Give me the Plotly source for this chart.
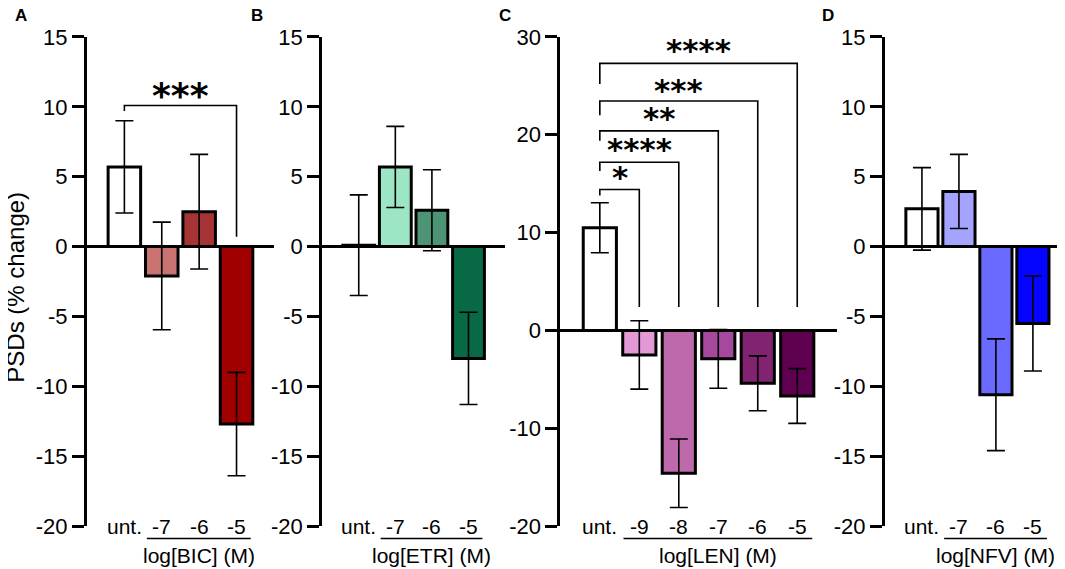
import plotly.graph_objects as go

# ---------------- data ----------------
A_CATS = ["unt.", "-7", "-6", "-5"]
A_MEAN = [5.7, -2.1, 2.5, -12.7]
A_SEM = [3.3, 3.85, 4.1, 3.7]
A_COLORS = ["#ffffff", "#c97272", "#a63434", "#a10000"]
A_DRUG = "log[BIC] (M)"

B_CATS = ["unt.", "-7", "-6", "-5"]
B_MEAN = [0.1, 5.7, 2.6, -8.0]
B_SEM = [3.6, 2.9, 2.9, 3.3]
B_COLORS = ["#ffffff", "#9ce6c6", "#4c9474", "#086a45"]
B_DRUG = "log[ETR] (M)"

C_CATS = ["unt.", "-9", "-8", "-7", "-6", "-5"]
C_MEAN = [10.5, -2.5, -14.6, -2.9, -5.4, -6.7]
C_SEM = [2.55, 3.5, 3.5, 3.0, 2.8, 2.8]
C_COLORS = ["#ffffff", "#e299d6", "#bd69ac", "#a6499c", "#812370", "#600050"]
C_DRUG = "log[LEN] (M)"

D_CATS = ["unt.", "-7", "-6", "-5"]
D_MEAN = [2.7, 3.95, -10.6, -5.5]
D_SEM = [2.95, 2.65, 4.0, 3.4]
D_COLORS = ["#ffffff", "#a4a4ff", "#6a6aff", "#0505ff"]
D_DRUG = "log[NFV] (M)"

TICKS_15 = [-20, -15, -10, -5, 0, 5, 10, 15]
TICKS_30 = [-20, -10, 0, 10, 20, 30]

# significance brackets: (left cat, right cat, level, left tick end, right drop end, stars, star y)
A_BRACKETS = [(0, 3, 10.1, 9.7, 0.7, "***", 10.9)]
C_BRACKETS = [
    (0, 1, 14.4, 13.8, 2.4, "*", 15.8),
    (0, 2, 17.2, 16.3, 2.4, "****", 18.6),
    (0, 3, 20.4, 19.4, 2.4, "**", 21.8),
    (0, 4, 23.45, 22.0, 2.4, "***", 24.7),
    (0, 5, 27.3, 25.2, 2.4, "****", 28.8),
]

# ---------------- layout helpers ----------------
W, H = 1065, 569
FONT = "Liberation Sans, Arial, sans-serif"


def px_x(xp):
    """target pixel column -> paper fraction (calibrated to the viewer)"""
    return (xp - 7.4) / 1059.7


def px_y(yp):
    """target pixel row -> paper fraction (calibrated to the viewer)"""
    return 1 - (yp - 18) / 546.0


Y_TOP, Y_BOT = 35, 526  # pixel rows of axis top / bottom

panels = [
    dict(letter="A", cats=A_CATS, mean=A_MEAN, sem=A_SEM, colors=A_COLORS, drug=A_DRUG,
         ticks=TICKS_15, yr=[-20, 15], x0=86, x1=272, bw=0.87, lx=20, br=A_BRACKETS, star=36),
    dict(letter="B", cats=B_CATS, mean=B_MEAN, sem=B_SEM, colors=B_COLORS, drug=B_DRUG,
         ticks=TICKS_15, yr=[-20, 15], x0=320, x1=502, bw=0.87, lx=255, br=[], star=36),
    dict(letter="C", cats=C_CATS, mean=C_MEAN, sem=C_SEM, colors=C_COLORS, drug=C_DRUG,
         ticks=TICKS_30, yr=[-20, 30], x0=557, x1=832, bw=0.84, lx=502, br=C_BRACKETS, star=31),
    dict(letter="D", cats=D_CATS, mean=D_MEAN, sem=D_SEM, colors=D_COLORS, drug=D_DRUG,
         ticks=TICKS_15, yr=[-20, 15], x0=880, x1=1064, bw=0.87, lx=823, br=[], star=36),
]

fig = go.Figure()
layout = dict(width=W, height=H, margin=dict(l=0, r=0, t=0, b=0),
              paper_bgcolor="white", plot_bgcolor="white", showlegend=False,
              font=dict(family=FONT, color="black"))
annotations = []
shapes = []

for i, p in enumerate(panels, start=1):
    sfx = "" if i == 1 else str(i)
    xa, ya = "x" + sfx, "y" + sfx
    n = len(p["cats"])
    xs = list(range(n))
    fig.add_trace(go.Bar(
        x=xs, y=p["mean"], width=p["bw"],
        marker=dict(color=p["colors"], line=dict(color="black", width=3)),
        error_y=dict(type="data", array=p["sem"], visible=True, color="black",
                     thickness=1.6, width=9),
        xaxis=xa, yaxis=ya, hoverinfo="skip"))
    for (l, r, lev, lt, rd, stars, sy) in p["br"]:
        fig.add_trace(go.Scatter(x=[l, l, r, r], y=[lt, lev, lev, rd], mode="lines",
                                 line=dict(color="black", width=1.6),
                                 xaxis=xa, yaxis=ya, hoverinfo="skip"))
        annotations.append(dict(x=(l + r) / 2, y=sy, xref=xa, yref=ya, text="<b>" + stars + "</b>",
                                showarrow=False, yanchor="middle", yshift=-1,
                                font=dict(family="DejaVu Sans", size=p["star"], color="black")))
    layout["xaxis" + sfx] = dict(domain=[px_x(p["x0"]), px_x(p["x1"])], range=[-1, n],
                                 visible=False, anchor=ya, fixedrange=True)
    layout["yaxis" + sfx] = dict(domain=[px_y(Y_BOT), px_y(Y_TOP)], range=p["yr"],
                                 anchor=xa, tickvals=p["ticks"],
                                 ticktext=[str(t) for t in p["ticks"]],
                                 showline=True, linewidth=3, linecolor="black",
                                 ticks="outside", ticklen=12, tickwidth=3, tickcolor="black",
                                 tickfont=dict(size=22, family=FONT, color="black"),
                                 showgrid=False, zeroline=True, zerolinewidth=3,
                                 zerolinecolor="black", fixedrange=True)
    # category labels
    for k, c in enumerate(p["cats"]):
        annotations.append(dict(x=k, y=px_y(Y_BOT), xref=xa, yref="paper", text=c,
                                showarrow=False, yanchor="middle",
                                font=dict(size=21, family=FONT, color="black")))
    # drug label & underline
    annotations.append(dict(x=n / 2, y=px_y(555.5), xref=xa, yref="paper", text=p["drug"],
                            showarrow=False, yanchor="middle",
                            font=dict(size=21, family=FONT, color="black")))
    shapes.append(dict(type="line", xref=xa, yref="paper", x0=0.6, x1=n - 0.62,
                       y0=px_y(538.5), y1=px_y(538.5), line=dict(color="black", width=1.5)))
    # panel letter
    annotations.append(dict(x=px_x(p["lx"]), y=px_y(3), xref="paper", yref="paper",
                            text="<b>" + p["letter"] + "</b>", showarrow=False,
                            xanchor="center", yanchor="top", borderpad=0,
                            font=dict(size=17, family=FONT, color="black")))

annotations.append(dict(x=px_x(14), y=px_y(286), xref="paper", yref="paper",
                        text="PSDs (% change)", textangle=-90, showarrow=False,
                        xanchor="center", yanchor="middle",
                        font=dict(size=24, family=FONT, color="black")))

layout["annotations"] = annotations
layout["shapes"] = shapes
fig.update_layout(**layout)
fig.write_html("out.html")
